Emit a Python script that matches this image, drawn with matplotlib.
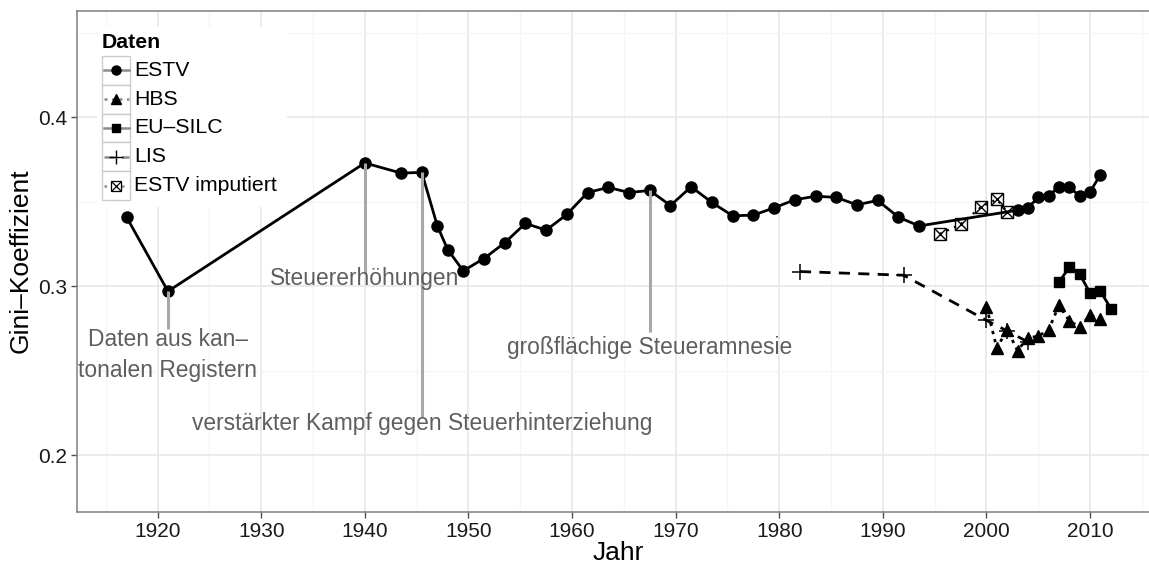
import numpy as np
import matplotlib
matplotlib.use('Agg')
import matplotlib.pyplot as plt
from matplotlib.lines import Line2D
from matplotlib.patches import Rectangle
from matplotlib.ticker import MultipleLocator, FormatStrFormatter

plt.rcParams['font.family'] = ['Liberation Sans', 'DejaVu Sans']

# ESTV Steuerstatistik
estv_jahr = [1917, 1921, 1940, 1943.5, 1945.5, 1947, 1948, 1949.5, 1951.5, 1953.5,
             1955.5, 1957.5, 1959.5, 1961.5, 1963.5, 1965.5, 1967.5, 1969.5, 1971.5, 1973.5,
             1975.5, 1977.5, 1979.5, 1981.5, 1983.5, 1985.5, 1987.5, 1989.5, 1991.5, 1993.5,
             2003, 2004, 2005, 2006, 2007, 2008, 2009, 2010, 2011]
estv_gini = [0.341, 0.297, 0.373, 0.367, 0.3674, 0.3357, 0.3217, 0.3091, 0.3164, 0.3257,
             0.3372, 0.3332, 0.3425, 0.3555, 0.3585, 0.3555, 0.3567, 0.3478, 0.3589, 0.3496,
             0.3417, 0.3421, 0.3464, 0.3512, 0.3533, 0.3526, 0.3482, 0.3508, 0.3409, 0.3357,
             0.3450, 0.3464, 0.3526, 0.3535, 0.3589, 0.3585, 0.3535, 0.3559, 0.3660]

# Haushaltsbudgeterhebung
hbs_jahr = [2000, 2001, 2002, 2003, 2004, 2005, 2006, 2007, 2008, 2009, 2010, 2011]
hbs_gini = [0.2879, 0.2634, 0.2742, 0.2619, 0.2696, 0.2703, 0.2743, 0.2887, 0.2794, 0.2759, 0.2828, 0.2806]

# EU-SILC
silc_jahr = [2007, 2008, 2009, 2010, 2011, 2012]
silc_gini = [0.3025, 0.3112, 0.3071, 0.2960, 0.2971, 0.2868]

# Luxembourg Income Study
lis_jahr = [1982, 1992, 2000, 2002, 2004]
lis_gini = [0.3087, 0.3065, 0.2798, 0.2735, 0.2670]

# ESTV imputiert
imp_jahr = [1995.5, 1997.5, 1999.5, 2001, 2002]
imp_gini = [0.3310, 0.3366, 0.3470, 0.3514, 0.3441]

# Anmerkungen: Jahr, Text, y Text, Ende der Linie
notiz_jahr = [1921, 1940, 1945.5, 1967.5]
notiz_text = ['Daten aus kan\u2013\ntonalen Registern', 'Steuererhöhungen',
              'verstärkter Kampf gegen Steuerhinterziehung', 'großflächige Steueramnesie']
notiz_y = [0.2594, 0.3047, 0.2190, 0.2640]
notiz_ende = [0.2745, 0.3077, 0.2225, 0.2730]

W, H = 1149, 564
fig = plt.figure(figsize=(W / 100, H / 100), dpi=100)
ax = fig.add_axes([77.3 / W, 1 - 511.5 / H, (1160 - 77.3) / W, (511.5 - 10.8) / H])

ax.set_xlim(1912.25, 2016.75)
ax.set_ylim(0.1666, 0.4631)

ax.xaxis.set_major_locator(MultipleLocator(10))
ax.xaxis.set_minor_locator(MultipleLocator(5))
ax.yaxis.set_major_locator(MultipleLocator(0.1))
ax.yaxis.set_minor_locator(MultipleLocator(0.05))
ax.yaxis.set_major_formatter(FormatStrFormatter('%.1f'))
ax.grid(which='major', color='#e6e6e6', lw=1.1)
ax.grid(which='minor', color='#f5f5f5', lw=0.9)
ax.set_axisbelow(True)
ax.tick_params(which='minor', length=0)
ax.tick_params(which='major', length=4.5, width=1.0, color='#4d4d4d',
               labelsize=15, labelcolor='#1a1a1a', pad=3)
for s in ax.spines.values():
    s.set_color('#7f7f7f')
    s.set_linewidth(1.1)

stile = {
    'ESTV': dict(marker='o', ms=8, ls='-', ms_leg=6.5),
    'HBS': dict(marker='^', ms=9, ls=(0, (1.2, 1.8)), ms_leg=7),
    'EU\u2013SILC': dict(marker='s', ms=7.7, ls='-', ms_leg=6),
    'LIS': dict(marker='+', ms=12, ls=(0, (4, 3)), ms_leg=10),
    'ESTV imputiert': dict(marker='s', ms=8.6, ls=(0, (1, 2.5)), ms_leg=7),
}

st = stile['ESTV']
ax.plot(estv_jahr, estv_gini, color='k', lw=2, ls=st['ls'], marker=st['marker'], ms=st['ms'], zorder=3)
st = stile['HBS']
ax.plot(hbs_jahr, hbs_gini, color='k', lw=2, ls=st['ls'], marker=st['marker'], ms=st['ms'], zorder=3)
st = stile['EU\u2013SILC']
ax.plot(silc_jahr, silc_gini, color='k', lw=2, ls=st['ls'], marker=st['marker'], ms=st['ms'], zorder=3)
st = stile['LIS']
ax.plot(lis_jahr, lis_gini, color='k', lw=2, ls=st['ls'], marker=st['marker'], ms=st['ms'], mew=1.1, zorder=3)
st = stile['ESTV imputiert']
ax.plot(imp_jahr, imp_gini, color='k', lw=1.6, ls=st['ls'], marker=st['marker'], ms=st['ms'],
        mfc='none', mew=1.0, zorder=3)
ax.plot(imp_jahr, imp_gini, ls='none', marker='x', ms=st['ms'], color='k', mew=1.0, zorder=3)

# Anmerkungen
for j, t, yt, ye in zip(notiz_jahr, notiz_text, notiz_y, notiz_ende):
    y0 = estv_gini[estv_jahr.index(j)]
    ax.plot([j, j], [y0, ye], color='#a8a8a8', lw=2.2, solid_capstyle='butt', zorder=4)
    ax.text(j, yt, t, ha='center', va='center', fontsize=16.4, color='#5e5e5e',
            linespacing=1.45, zorder=5)

ax.set_xlabel('Jahr', fontsize=19)
ax.xaxis.set_label_coords(0.5, (511.5 - 553) / 500.7)
ax.xaxis.label.set_va('center')
ax.set_ylabel('Gini\u2013Koeffizient', fontsize=19)
ax.yaxis.set_label_coords((20.8 - 77.3) / 1082.7, 0.5)
ax.yaxis.label.set_va('center')

# Legende
lax = fig.add_axes([97 / W, 1 - 207 / H, 190 / W, 180 / H])
lax.set_xlim(0, 190)
lax.set_ylim(180, 0)
lax.set_xticks([])
lax.set_yticks([])
for s in lax.spines.values():
    s.set_visible(False)
lax.set_facecolor('white')
lax.text(4.7, 15.3, 'Daten', fontsize=15.3, weight='bold', ha='left', va='center')
for i, (name, st) in enumerate(stile.items()):
    top = 28.7 + i * 28.9
    cy = top + 14.45
    lax.add_patch(Rectangle((4.7, top), 28.3, 28.9, fc='white', ec='#cccccc', lw=1))
    lax.add_line(Line2D([6.5, 31.5], [cy, cy], color='#8c8c8c', lw=1.8, ls=st['ls']))
    if name == 'ESTV imputiert':
        lax.add_line(Line2D([18.85], [cy], marker='s', ms=st['ms_leg'], mfc='white', mec='k', mew=0.9))
        lax.add_line(Line2D([18.85], [cy], marker='x', ms=st['ms_leg'], color='k', mew=0.9))
    else:
        lax.add_line(Line2D([18.85], [cy], marker=st['marker'], ms=st['ms_leg'], color='k', mew=1.0))
    lax.text(37.3, cy, name, fontsize=15.3, ha='left', va='center')

fig.savefig('out.png', dpi=100)
